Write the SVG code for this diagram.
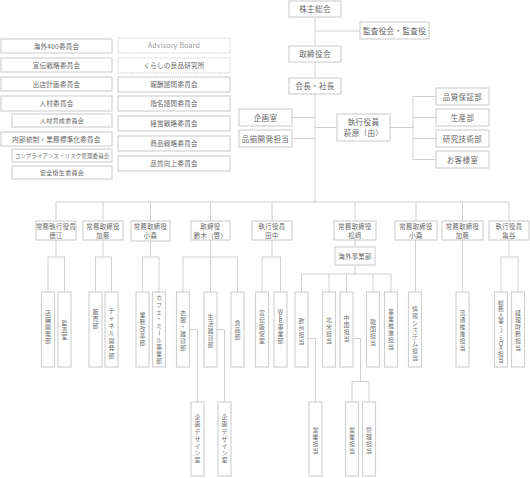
<svg xmlns="http://www.w3.org/2000/svg" width="530" height="478" viewBox="0 0 530 478">
<style>
.b{fill:#fff;stroke:#d2d2d2;stroke-width:1.2}
.d{fill:#fff;stroke:#c8c8c8;stroke-width:1;stroke-dasharray:1.2 1}
.l{fill:none;stroke:#d0d0d0;stroke-width:1}
text{font-family:"Noto Sans CJK JP","Noto Sans",sans-serif;fill:#666;text-anchor:middle}
.t1{font-size:7.5px;letter-spacing:0.4px}
.t2{font-size:6.5px;letter-spacing:0.3px}
.t3{font-size:6.3px;letter-spacing:0.4px}
.v{font-size:6px;fill:#707070}
.ab{fill:#999;font-size:7px;letter-spacing:0.2px}
</style>
<rect width="530" height="478" fill="#fff"/>
<g id="connectors" class="l">
<path d="M315 17V46M315 62V78M315 94V202M315 31H360M292 117.5H315M292 138.5H315M315 127.5H337M390 127.5H413M413 96.5V159.5M413 96.5H436M413 117.5H436M413 138.5H436M413 159.5H436"/>
<path d="M56 202H509M56 202V221M103 202V221M150.5 202V221M210.5 202V221M272 202V221M355 202V221M416 202V221M462.5 202V221M509 202V221"/>
<path d="M56 240V257M48 257H64.5M48 257V292M64.5 257V292"/>
<path d="M103 240V257M95.5 257H111.5M95.5 257V292M111.5 257V292"/>
<path d="M150.5 240V257M142.5 257H159M142.5 257V292M159 257V292"/>
<path d="M210.5 240V292M183 257H237.5M183 257V292M237.5 257V292"/>
<path d="M272 240V257M262 257H280.5M262 257V292M280.5 257V292"/>
<path d="M355 240V247M355 265V274M301.5 274H391M301.5 274V292M329 274V292M346.5 274V292M373 274V292M391 274V292"/>
<path d="M415.5 240V292M462.5 240V292"/>
<path d="M509 240V257M501 257H518M501 257V292M518 257V292"/>
<path d="M189.5 329.5H197.5V402M217 329.5H224.5V402M308 338.5H315.5V402M353 338.5H360.5V381.5M352 381.5H369M352 381.5V402M369 381.5V402"/>
</g>
<g id="n-kabunushi"><rect class="b" x="289" y="1" width="52" height="16"/><text class="t1" x="315" y="12">株主総会</text></g>
<g id="n-kansa"><rect class="b" x="360" y="22" width="69" height="17"/><text class="t1" x="394.5" y="33.5">監査役会・監査役</text></g>
<g id="n-torishimari"><rect class="b" x="289" y="46" width="52" height="16"/><text class="t1" x="315" y="57">取締役会</text></g>
<g id="n-kaicho"><rect class="b" x="289" y="78" width="52" height="16"/><text class="t1" x="315" y="89">会長・社長</text></g>
<g id="n-kikaku"><rect class="b" x="239" y="109" width="53" height="17"/><text class="t1" x="265.5" y="120.5">企画室</text></g>
<g id="n-shinazoroe"><rect class="b" x="239" y="130" width="53" height="17"/><text class="t1" x="265.5" y="141.5">品揃開発担当</text></g>
<g id="n-hagiwara"><rect class="b" x="337" y="114" width="53" height="27"/><text class="t1" x="363.5" y="125">執行役員</text><text class="t1" x="363.5" y="135.5">萩原（由）</text></g>
<g id="n-hinshitsu"><rect class="b" x="436" y="88" width="53" height="17"/><text class="t1" x="462.5" y="99.5">品質保証部</text></g>
<g id="n-seisan"><rect class="b" x="436" y="109" width="53" height="17"/><text class="t1" x="462.5" y="120.5">生産部</text></g>
<g id="n-kenkyu"><rect class="b" x="436" y="130" width="53" height="17"/><text class="t1" x="462.5" y="141.5">研究技術部</text></g>
<g id="n-okyaku"><rect class="b" x="436" y="151" width="53" height="17"/><text class="t1" x="462.5" y="162.5">お客様室</text></g>

<g id="c-kaigai400"><rect class="b" x="1" y="39" width="111" height="14"/><text class="t2" x="56.5" y="48.5">海外400委員会</text></g>
<g id="c-senden"><rect class="b" x="1" y="58" width="111" height="14"/><text class="t2" x="56.5" y="67.5">宣伝戦略委員会</text></g>
<g id="c-shutten"><rect class="b" x="1" y="77" width="111" height="14"/><text class="t2" x="56.5" y="86.5">出店計画委員会</text></g>
<g id="c-jinzai"><rect class="b" x="1" y="96" width="111" height="15"/><text class="t2" x="56.5" y="106">人材委員会</text></g>
<g id="c-ikusei"><rect class="b" x="12" y="114" width="100" height="13"/><text class="t2" x="62" y="123" style="font-size:6px">人材育成委員会</text></g>
<g id="c-naibu"><rect class="b" x="1" y="132" width="111" height="14"/><text class="t2" x="56.5" y="141.5">内部統制・業務標準化委員会</text></g>
<g id="c-compliance"><rect class="b" x="12" y="149" width="100" height="13"/><text class="t2" x="62" y="158" style="font-size:5.5px;letter-spacing:0.1px">コンプライアンス・リスク管理委員会</text></g>
<g id="c-anzen"><rect class="b" x="12" y="166" width="100" height="13"/><text class="t2" x="62" y="175" style="font-size:6px">安全衛生委員会</text></g>
<g id="c-advisory"><rect class="d" x="118" y="38" width="112" height="15"/><text class="ab" x="174" y="48">Advisory Board</text></g>
<g id="c-kurashi"><rect class="d" x="118" y="58" width="112" height="15"/><text class="t2" x="174" y="68">くらしの良品研究所</text></g>
<g id="c-hoshu"><rect class="b" x="118" y="77" width="112" height="15"/><text class="t2" x="174" y="87">報酬諮問委員会</text></g>
<g id="c-shimei"><rect class="b" x="118" y="96" width="112" height="15"/><text class="t2" x="174" y="106">指名諮問委員会</text></g>
<g id="c-keiei"><rect class="b" x="118" y="116" width="112" height="15"/><text class="t2" x="174" y="126">経営戦略委員会</text></g>
<g id="c-shohin"><rect class="b" x="118" y="136" width="112" height="15"/><text class="t2" x="174" y="146">商品戦略委員会</text></g>
<g id="c-hinshitsu"><rect class="b" x="118" y="156" width="112" height="15"/><text class="t2" x="174" y="166">品質向上委員会</text></g>

<g id="m-tokue"><rect class="b" x="36" y="221" width="40" height="19"/><text class="t3" x="56" y="228.5">常務執行役員</text><text class="t3" x="56" y="237.5">徳江</text></g>
<g id="m-kato1"><rect class="b" x="83" y="221" width="40" height="19"/><text class="t3" x="103" y="228.5">常務取締役</text><text class="t3" x="103" y="237.5">加藤</text></g>
<g id="m-komori1"><rect class="b" x="131" y="221" width="39" height="20"/><text class="t3" x="150.5" y="229">常務取締役</text><text class="t3" x="150.5" y="238">小森</text></g>
<g id="m-suzuki"><rect class="b" x="191" y="221" width="39" height="19"/><text class="t3" x="210.5" y="228.5">取締役</text><text class="t3" x="210.5" y="237.5">鈴木（啓）</text></g>
<g id="m-tanaka"><rect class="b" x="252" y="221" width="40" height="19"/><text class="t3" x="272" y="228.5">執行役員</text><text class="t3" x="272" y="237.5">田中</text></g>
<g id="m-matsuzaki"><rect class="b" x="334" y="221" width="42" height="19"/><text class="t3" x="355" y="228.5">常務取締役</text><text class="t3" x="355" y="237.5">松﨑</text></g>
<g id="m-komori2"><rect class="b" x="395" y="221" width="42" height="19"/><text class="t3" x="416" y="228.5">常務取締役</text><text class="t3" x="416" y="237.5">小森</text></g>
<g id="m-kato2"><rect class="b" x="442" y="221" width="41" height="19"/><text class="t3" x="462.5" y="228.5">常務取締役</text><text class="t3" x="462.5" y="237.5">加藤</text></g>
<g id="m-kametani"><rect class="b" x="489" y="221" width="40" height="19"/><text class="t3" x="509" y="228.5">執行役員</text><text class="t3" x="509" y="237.5">亀谷</text></g>
<g id="m-kaigai"><rect class="b" x="335" y="247" width="40" height="18"/><text class="t3" x="355" y="258.5">海外事業部</text></g>

<g id="d-tenpo"><rect class="b" x="41.5" y="292" width="13" height="75"/><text class="v" x="48 48 48 48 48" y="315.3 322.3 329.3 336.3 343.3">店舗開発部</text></g>
<g id="d-kansashitsu"><rect class="b" x="58" y="292" width="13" height="75"/><text class="v" x="64.5 64.5 64.5" y="325.3 332.3 339.3">監査室</text></g>
<g id="d-hanbai"><rect class="b" x="89" y="292" width="13" height="75"/><text class="v" x="95.5 95.5 95.5" y="314.3 321.3 328.3">販売部</text></g>
<g id="d-channel"><rect class="b" x="105" y="292" width="13" height="75"/><text class="v" x="111.5 111.5 111.5 111.5 111.5 111.5 111.5" y="312.8 320.3 327.8 335.3 342.8 350.3 357.8">チャネル開発部</text></g>
<g id="d-gyomu"><rect class="b" x="136" y="292" width="13" height="75"/><text class="v" x="142.5 142.5 142.5 142.5 142.5" y="317.3 324.3 331.3 338.3 345.3">業務改革部</text></g>
<g id="d-cafe"><rect class="b" x="152.5" y="292" width="13" height="75"/><text class="v" x="159 159 159 159 159 159.7 159 159 159 159" y="300.3 307.3 314.3 321.3 328.3 330 342.3 349.3 356.3 363.3" rotate="0 0 0 0 0 90 0 0 0 0">カフェ・ミール事業部</text></g>
<g id="d-ifuku"><rect class="b" x="176.5" y="292" width="13" height="75"/><text class="v" x="183 183 183 183 183 183" y="314.8 321.8 328.8 335.8 342.8 349.8">衣服・雑貨部</text></g>
<g id="d-seikatsu"><rect class="b" x="204" y="292" width="13" height="75"/><text class="v" x="210.5 210.5 210.5 210.5 210.5" y="319.3 326.3 333.3 340.3 347.3">生活雑貨部</text></g>
<g id="d-shokuhin"><rect class="b" x="231" y="292" width="13" height="75"/><text class="v" x="237.5 237.5 237.5" y="324.8 331.8 338.8">食品部</text></g>
<g id="d-sendenhansoku"><rect class="b" x="255.5" y="292" width="13" height="75"/><text class="v" x="262 262 262 262 262" y="315.3 322.3 329.3 336.3 343.3">宣伝販促室</text></g>
<g id="d-web"><rect class="b" x="274" y="292" width="13" height="75"/><text class="v" x="280.5 280.5 280.5 280.5 280.5 280.5" y="314 319 323.2 328.5 335.6 342.5">WEB事業部</text></g>
<g id="d-oshu"><rect class="b" x="295" y="292" width="13" height="75"/><text class="v" x="301.5 301.5 301.5 301.5" y="322.8 329.8 336.8 343.8">欧州担当</text></g>
<g id="d-hokubei"><rect class="b" x="322.5" y="292" width="13" height="75"/><text class="v" x="329 329 329 329" y="321.8 328.8 335.8 342.8">北米担当</text></g>
<g id="d-chugoku"><rect class="b" x="340" y="292" width="13" height="75"/><text class="v" x="346.5 346.5 346.5 346.5" y="320.3 327.3 334.3 341.3">中国担当</text></g>
<g id="d-kankoku"><rect class="b" x="366.5" y="292" width="13" height="75"/><text class="v" x="373 373 373 373" y="323.8 330.8 337.8 344.8">韓国担当</text></g>
<g id="d-jigyosuishin"><rect class="b" x="384.5" y="292" width="13" height="75"/><text class="v" x="391 391 391 391 391 391" y="313.8 320.8 327.8 334.8 341.8 348.8">事業推進担当</text></g>
<g id="d-joho"><rect class="b" x="408.5" y="292" width="13" height="75"/><text class="v" x="415 415 415 415 415 415 415 415" y="310.8 317.8 324.8 331.8 338.8 345.8 352.8 359.8">情報システム担当</text></g>
<g id="d-ryutsu"><rect class="b" x="456" y="292" width="13" height="75"/><text class="v" x="462.5 462.5 462.5 462.5 462.5 462.5" y="314.8 321.8 328.8 335.8 342.8 349.8">流通推進担当</text></g>
<g id="d-somu"><rect class="b" x="494.5" y="292" width="13" height="75"/><text class="v" style="font-size:5.8px" x="501 501 501 501 501 501 501 501 501 501 501 501" y="305.2 311.2 317.2 323.2 328.7 333.1 336.6 341.5 345.7 349.9 355.5 361.5">総務人事・J-SOX担当</text></g>
<g id="d-keiri"><rect class="b" x="511.5" y="292" width="13" height="75"/><text class="v" x="518 518 518 518 518 518" y="314.8 321.8 328.8 335.8 342.8 349.8">経理財務担当</text></g>

<g id="s-design1"><rect class="b" x="191" y="402" width="13" height="74"/><text class="v" x="197.5 197.5 197.5 197.5 197.5 197.5 197.5" y="419.2 426.4 433.6 440.8 448 455.2 462.4">企画デザイン室</text></g>
<g id="s-design2"><rect class="b" x="218" y="402" width="13" height="74"/><text class="v" x="224.5 224.5 224.5 224.5 224.5 224.5 224.5" y="419.2 426.4 433.6 440.8 448 455.2 462.4">企画デザイン室</text></g>
<g id="s-eigyo1"><rect class="b" x="309" y="402" width="13" height="74"/><text class="v" x="315.5 315.5 315.5 315.5" y="432.3 439.3 446.3 453.3">営業担当</text></g>
<g id="s-eigyo2"><rect class="b" x="345.5" y="402" width="13" height="74"/><text class="v" x="352 352 352 352" y="432.3 439.3 446.3 453.3">営業担当</text></g>
<g id="s-kanri"><rect class="b" x="362.5" y="402" width="13" height="74"/><text class="v" x="369 369 369 369" y="431.8 438.8 445.8 452.8">管理担当</text></g>
</svg>
